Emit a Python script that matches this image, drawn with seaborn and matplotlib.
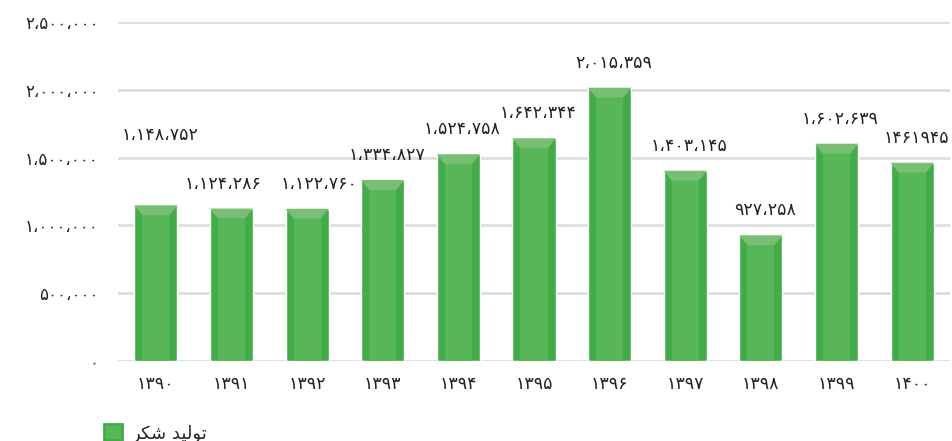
import matplotlib
matplotlib.use("Agg")
import matplotlib.pyplot as plt
import seaborn as sns
import pandas as pd
from matplotlib.patches import Rectangle, Polygon

# Données : production de sucre (tonnes)
years = ["۱۳۹۰", "۱۳۹۱", "۱۳۹۲", "۱۳۹۳", "۱۳۹۴", "۱۳۹۵",
         "۱۳۹۶", "۱۳۹۷", "۱۳۹۸", "۱۳۹۹", "۱۴۰۰"]
production = [1148752, 1124286, 1122760, 1334827, 1524758, 1642344,
              2015359, 1403145, 927258, 1602639, 1461945]
value_labels = ["۱،۱۴۸،۷۵۲", "۱،۱۲۴،۲۸۶", "۱،۱۲۲،۷۶۰", "۱،۳۳۴،۸۲۷",
                "۱،۵۲۴،۷۵۸", "۱،۶۴۲،۳۴۴", "۲،۰۱۵،۳۵۹", "۱،۴۰۳،۱۴۵",
                "۹۲۷،۲۵۸", "۱،۶۰۲،۶۳۹", "۱۴۶۱۹۴۵"]
y_ticks = [0, 500000, 1000000, 1500000, 2000000, 2500000]
y_tick_labels = ["۰", "۵۰۰،۰۰۰", "۱،۰۰۰،۰۰۰", "۱،۵۰۰،۰۰۰",
                 "۲،۰۰۰،۰۰۰", "۲،۵۰۰،۰۰۰"]
# "تولید شکر" en formes de présentation, ordre visuel (pas de shaping dans matplotlib)
legend_label = "\uFEAE\uFB91\uFEB7 \uFEAA\uFBFF\uFEDF\uFEEE\uFE97"

SIDE = "#41ad49"
FACE = "#57b657"
CAP = "#78bf73"

df = pd.DataFrame({"annee": years, "production": production})

sns.set_theme(style="white")
plt.rcParams["font.family"] = ["DejaVu Sans"]

fig = plt.figure(figsize=(9.52, 4.41), dpi=100)
ax = fig.add_axes([118 / 952, 1 - 361 / 441, 832 / 952, 339 / 441])

sns.barplot(data=df, x="annee", y="production", color=SIDE, saturation=1,
            width=0.57, ax=ax, zorder=3)

ax.set_ylim(0, 2500000)
ax.set_xlim(-0.5, len(years) - 0.5)

# effet 3D : face centrale + chapeau clair
cap_h = 10 * 2500000 / 339
for p in ax.patches:
    x0, w, h = p.get_x(), p.get_width(), p.get_height()
    s = w * 8 / 43
    ax.add_patch(Rectangle((x0 + s, 0), w - 2 * s, h - cap_h, facecolor=FACE,
                           edgecolor="none", zorder=4))
    ax.add_patch(Polygon([(x0, h), (x0 + w, h), (x0 + w - s, h - cap_h),
                          (x0 + s, h - cap_h)], closed=True, facecolor=CAP,
                         edgecolor="none", zorder=4))

# étiquettes de valeurs (décalées comme dans l'original pour éviter les chevauchements)
for i, (v, lab) in enumerate(zip(production, value_labels)):
    dy = 61 if i == 0 else 16
    dx = {1: -8, 2: 12}.get(i, 4)
    ax.annotate(lab, (i, v), xytext=(dx, dy), textcoords="offset pixels",
                ha="center", va="bottom", fontsize=12.5, color="#222222",
                zorder=5)

ax.set_yticks(y_ticks)
ax.set_yticklabels(y_tick_labels)
ax.tick_params(axis="y", length=0, pad=14, labelsize=12, labelcolor="#222222")
ax.tick_params(axis="x", length=0, pad=10, labelsize=12.5, labelcolor="#222222")
ax.set_xlabel("")
ax.set_ylabel("")
ax.grid(axis="y", color="#dddddd", linewidth=2, zorder=0)
ax.set_axisbelow(True)
sns.despine(ax=ax, left=True, bottom=True)

handle = Rectangle((0, 0), 1, 1, facecolor=FACE, edgecolor=SIDE, linewidth=2)
fig.legend([handle], [legend_label], loc="lower left",
           bbox_to_anchor=(88 / 952, -18 / 441), frameon=False, fontsize=13,
           handlelength=1.0, handleheight=1.0, handletextpad=0.5)

fig.savefig("out.png", dpi=100)
plt.close(fig)
